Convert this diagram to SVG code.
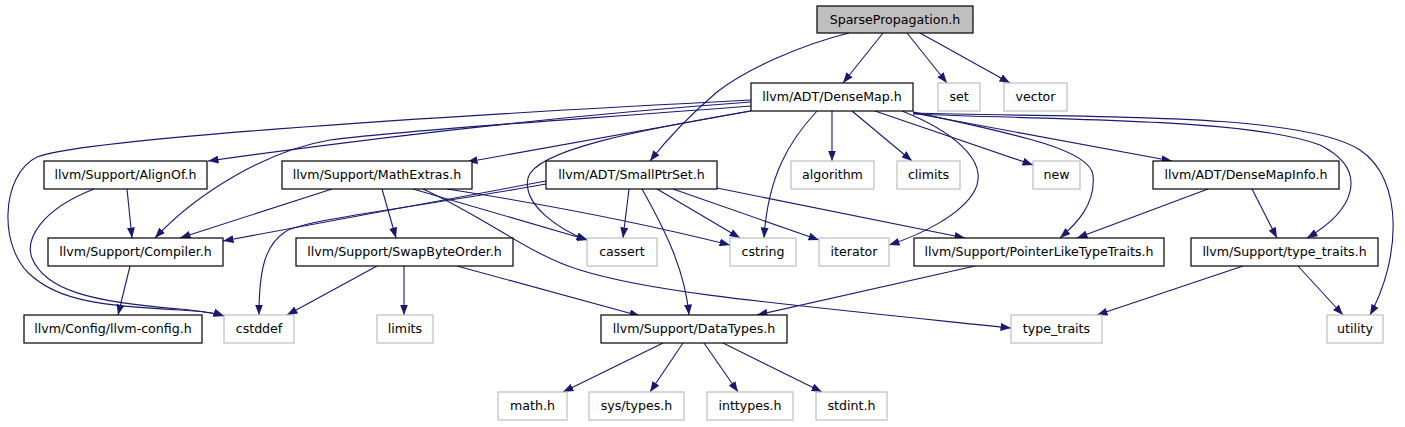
<svg xmlns="http://www.w3.org/2000/svg" width="1405" height="427" viewBox="0 0 1405 427">
<defs>
<marker id="ah" markerUnits="userSpaceOnUse" markerWidth="11" markerHeight="8" refX="10.5" refY="4" orient="auto">
<path d="M0,0 L10.5,4 L0,8 z" fill="#191970"/>
</marker>
<style>
.e path{fill:none;stroke:#191970;stroke-width:1.1;marker-end:url(#ah)}
.n rect{fill:#ffffff;stroke:#000000;stroke-width:1.2}
.x rect{fill:#ffffff;stroke:#bfbfbf;stroke-width:1.2}
text{font-family:"DejaVu Sans","Liberation Sans",sans-serif;font-size:12.6px;fill:#000000;text-anchor:middle}
</style>
</defs>
<rect x="0" y="0" width="1405" height="427" fill="#ffffff"/>
<g id="edges" class="e">
<path d="M883,33 L843,83"/>
<path d="M907,33 L947,83"/>
<path d="M920,33 L1010,83"/>
<path d="M849,33 C800,45 745,70 717,92 C690,115 668,138 650,161"/>
<path d="M751,102 Q500,120 208,161"/>
<path d="M751,111 L467,162"/>
<path d="M751,106 C600,118 400,130 330,140 C270,150 200,190 155,238"/>
<path d="M751,100 C400,118 80,140 37,157 C0,175 -2,250 33,277 C60,300 100,306 180,310 C200,311 215,313 224,316"/>
<path d="M94,189 C40,210 25,240 32,258 C45,290 90,302 180,309 C200,311 215,313 224,316"/>
<path d="M546,184 C430,205 300,220 285,232 C265,245 259,270 259,315"/>
<path d="M546,181 L223,241"/>
<path d="M332,189 L180,238"/>
<path d="M127,189 L132,238"/>
<path d="M382,189 L396,238"/>
<path d="M413,189 L588,240"/>
<path d="M423,189 C490,220 530,255 580,270 C650,292 760,302 1011,328"/>
<path d="M447,189 C550,205 650,225 730,245"/>
<path d="M750,111 C640,130 535,150 528,178 C522,205 560,230 587,240"/>
<path d="M817,111 C790,140 768,175 764,238"/>
<path d="M832,111 L832,161"/>
<path d="M852,111 L912,161"/>
<path d="M875,111 L1033,165"/>
<path d="M902,111 C950,130 990,160 975,190 C962,215 920,235 889,245"/>
<path d="M913,112 C1020,135 1090,150 1093,175 C1096,205 1075,225 1060,238"/>
<path d="M913,113 L1172,161"/>
<path d="M913,114 C1050,120 1250,118 1320,145 C1370,170 1355,210 1307,238"/>
<path d="M913,113 C1050,118 1300,110 1360,150 C1405,180 1400,260 1370,315"/>
<path d="M1208,189 L1077,238"/>
<path d="M1252,189 L1277,238"/>
<path d="M1243,266 L1097,315"/>
<path d="M1298,266 L1343,315"/>
<path d="M975,266 L757,315"/>
<path d="M717,188 L965,238"/>
<path d="M673,189 L819,240"/>
<path d="M657,189 L740,238"/>
<path d="M629,189 L623,238"/>
<path d="M642,189 C665,230 685,270 689,315"/>
<path d="M377,266 L287,315"/>
<path d="M404,266 L404,315"/>
<path d="M457,266 L640,316"/>
<path d="M130,266 L118,315"/>
<path d="M663,343 L563,392"/>
<path d="M683,343 L650,392"/>
<path d="M704,343 L738,392"/>
<path d="M723,343 L822,392"/>
</g>
<g id="n_sparse" class="n"><rect x="817" y="6" width="156" height="27" style="fill:#bfbfbf"/><text x="895" y="24">SparsePropagation.h</text></g>
<g id="n_densemap" class="n"><rect x="751" y="83" width="162" height="28"/><text x="832" y="101">llvm/ADT/DenseMap.h</text></g>
<g id="n_set" class="x"><rect x="938" y="83" width="42" height="28"/><text x="959" y="101">set</text></g>
<g id="n_vector" class="x"><rect x="1004" y="83" width="63" height="28"/><text x="1035.5" y="101">vector</text></g>
<g id="n_alignof" class="n"><rect x="44" y="161" width="163" height="28"/><text x="125.5" y="179">llvm/Support/AlignOf.h</text></g>
<g id="n_mathextras" class="n"><rect x="282" y="161" width="190" height="28"/><text x="377" y="179">llvm/Support/MathExtras.h</text></g>
<g id="n_smallptrset" class="n"><rect x="546" y="161" width="171" height="28"/><text x="631.5" y="179">llvm/ADT/SmallPtrSet.h</text></g>
<g id="n_algorithm" class="x"><rect x="791" y="161" width="83" height="28"/><text x="832.5" y="179">algorithm</text></g>
<g id="n_climits" class="x"><rect x="897" y="161" width="63" height="28"/><text x="928.5" y="179">climits</text></g>
<g id="n_new" class="x"><rect x="1033" y="161" width="47" height="28"/><text x="1056.5" y="179">new</text></g>
<g id="n_densemapinfo" class="n"><rect x="1153" y="161" width="186" height="28"/><text x="1246" y="179">llvm/ADT/DenseMapInfo.h</text></g>
<g id="n_compiler" class="n"><rect x="48" y="238" width="175" height="28"/><text x="135.5" y="256">llvm/Support/Compiler.h</text></g>
<g id="n_swapbyteorder" class="n"><rect x="296" y="238" width="217" height="28"/><text x="404.5" y="256">llvm/Support/SwapByteOrder.h</text></g>
<g id="n_cassert" class="x"><rect x="587" y="238" width="70" height="28"/><text x="622" y="256">cassert</text></g>
<g id="n_cstring" class="x"><rect x="730" y="238" width="66" height="28"/><text x="763" y="256">cstring</text></g>
<g id="n_iterator" class="x"><rect x="819" y="238" width="70" height="28"/><text x="854" y="256">iterator</text></g>
<g id="n_pltt" class="n"><rect x="914" y="238" width="250" height="28"/><text x="1039" y="256">llvm/Support/PointerLikeTypeTraits.h</text></g>
<g id="n_typetraitsh" class="n"><rect x="1191" y="238" width="187" height="28"/><text x="1284.5" y="256">llvm/Support/type_traits.h</text></g>
<g id="n_llvmconfig" class="n"><rect x="24" y="315" width="178" height="28"/><text x="113" y="333">llvm/Config/llvm-config.h</text></g>
<g id="n_cstddef" class="x"><rect x="224" y="315" width="70" height="28"/><text x="259" y="333">cstddef</text></g>
<g id="n_limits" class="x"><rect x="377" y="315" width="56" height="28"/><text x="405" y="333">limits</text></g>
<g id="n_datatypes" class="n"><rect x="601" y="315" width="186" height="28"/><text x="694" y="333">llvm/Support/DataTypes.h</text></g>
<g id="n_type_traits" class="x"><rect x="1011" y="315" width="91" height="28"/><text x="1056.5" y="333">type_traits</text></g>
<g id="n_utility" class="x"><rect x="1327" y="315" width="56" height="28"/><text x="1355" y="333">utility</text></g>
<g id="n_math" class="x"><rect x="498" y="392" width="69" height="28"/><text x="532.5" y="410">math.h</text></g>
<g id="n_systypes" class="x"><rect x="589" y="392" width="95" height="28"/><text x="636.5" y="410">sys/types.h</text></g>
<g id="n_inttypes" class="x"><rect x="707" y="392" width="86" height="28"/><text x="750" y="410">inttypes.h</text></g>
<g id="n_stdint" class="x"><rect x="816" y="392" width="71" height="28"/><text x="851.5" y="410">stdint.h</text></g>
</svg>
